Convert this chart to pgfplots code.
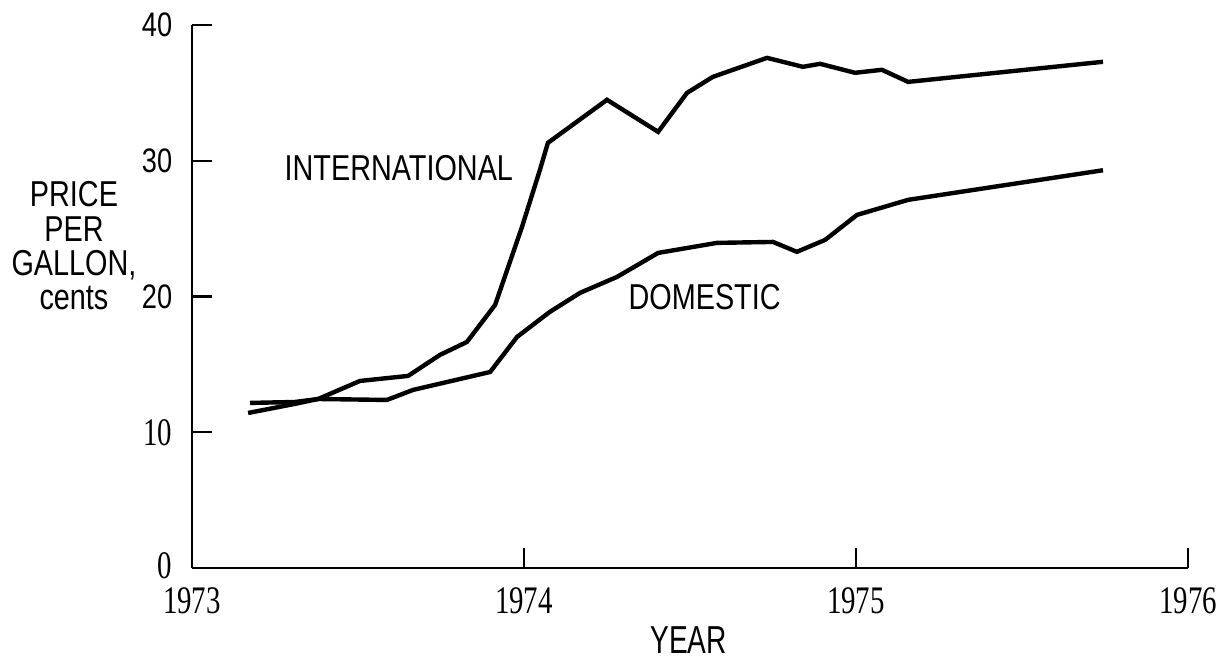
\documentclass[border=0pt]{standalone}
\usepackage{pgfplots}
\pgfplotsset{compat=1.18}
\usepackage{fontspec}
\setmainfont{Liberation Sans}
\newfontfamily\lbl[FakeStretch=0.8]{Liberation Sans}
\newfontfamily\ylbl[FakeStretch=0.72]{Liberation Sans}
\newfontfamily\xnum[FakeStretch=0.74]{Liberation Serif}
\newcommand{\sn}[1]{{\xnum\fontsize{19.5}{19.5}\selectfont #1}}
\begin{document}
\begin{tikzpicture}
\path (-96pt,-44.5pt) rectangle (517.5pt,284pt);
\begin{axis}[
  at={(0,0)}, anchor=south west,
  scale only axis, width=498pt, height=271.5pt,
  xmin=1973, xmax=1976, ymin=0, ymax=40,
  axis x line=bottom, axis y line=left,
  axis line style={-, line width=1.2pt},
  xtick={1973,1974,1975,1976}, xticklabels={1973,1974,1975,1976},
  ytick={0,10,20,30,40}, yticklabels={\raisebox{2pt}{\sn{0}},\sn{10},20,30,40},
  tick align=inside, major tick length=10pt,
  tick style={line width=1.1pt, black},
  x tick label style={font=\xnum\fontsize{19.5}{19.5}\selectfont, inner sep=1pt, yshift=-8.5pt},
  y tick label style={font=\lbl\fontsize{17}{17}\selectfont, inner sep=1pt, xshift=-8.7pt},
  clip=false,
]
\addplot[line width=2.2pt, black] coordinates {
(1973.169,11.42) (1973.310,12.09) (1973.380,12.45) (1973.506,13.78)
(1973.651,14.15) (1973.747,15.70) (1973.828,16.65) (1973.913,19.38)
(1973.994,25.13) (1974.048,29.33) (1974.072,31.32) (1974.250,34.49)
(1974.404,32.13) (1974.491,35.00) (1974.569,36.18) (1974.732,37.58)
(1974.840,36.92) (1974.892,37.14) (1974.997,36.48) (1975.078,36.70)
(1975.157,35.81) (1975.744,37.29)
};
\addplot[line width=2.2pt, black] coordinates {
(1973.175,12.16) (1973.310,12.23) (1973.380,12.45) (1973.587,12.38)
(1973.666,13.12) (1973.898,14.44) (1973.979,17.02) (1974.078,18.87)
(1974.169,20.27) (1974.280,21.44) (1974.404,23.21) (1974.581,23.95)
(1974.750,24.02) (1974.822,23.29) (1974.907,24.17) (1975.003,26.01)
(1975.157,27.12) (1975.744,29.30)
};
\node[font=\lbl\fontsize{18}{18}\selectfont] at (axis cs:1973.623,29.48) {INTERNATIONAL};
\node[font=\lbl\fontsize{18}{18}\selectfont] at (axis cs:1974.544,19.97) {DOMESTIC};
\node[font=\lbl\fontsize{18}{17.2}\selectfont, align=center] at (rel axis cs:-0.1185,0.593) {PRICE\\PER\\GALLON,\\cents};
\node[font=\ylbl\fontsize{19.5}{19.5}\selectfont] at (rel axis cs:0.4985,0) [yshift=-36pt] {YEAR};
\end{axis}
\end{tikzpicture}
\end{document}
